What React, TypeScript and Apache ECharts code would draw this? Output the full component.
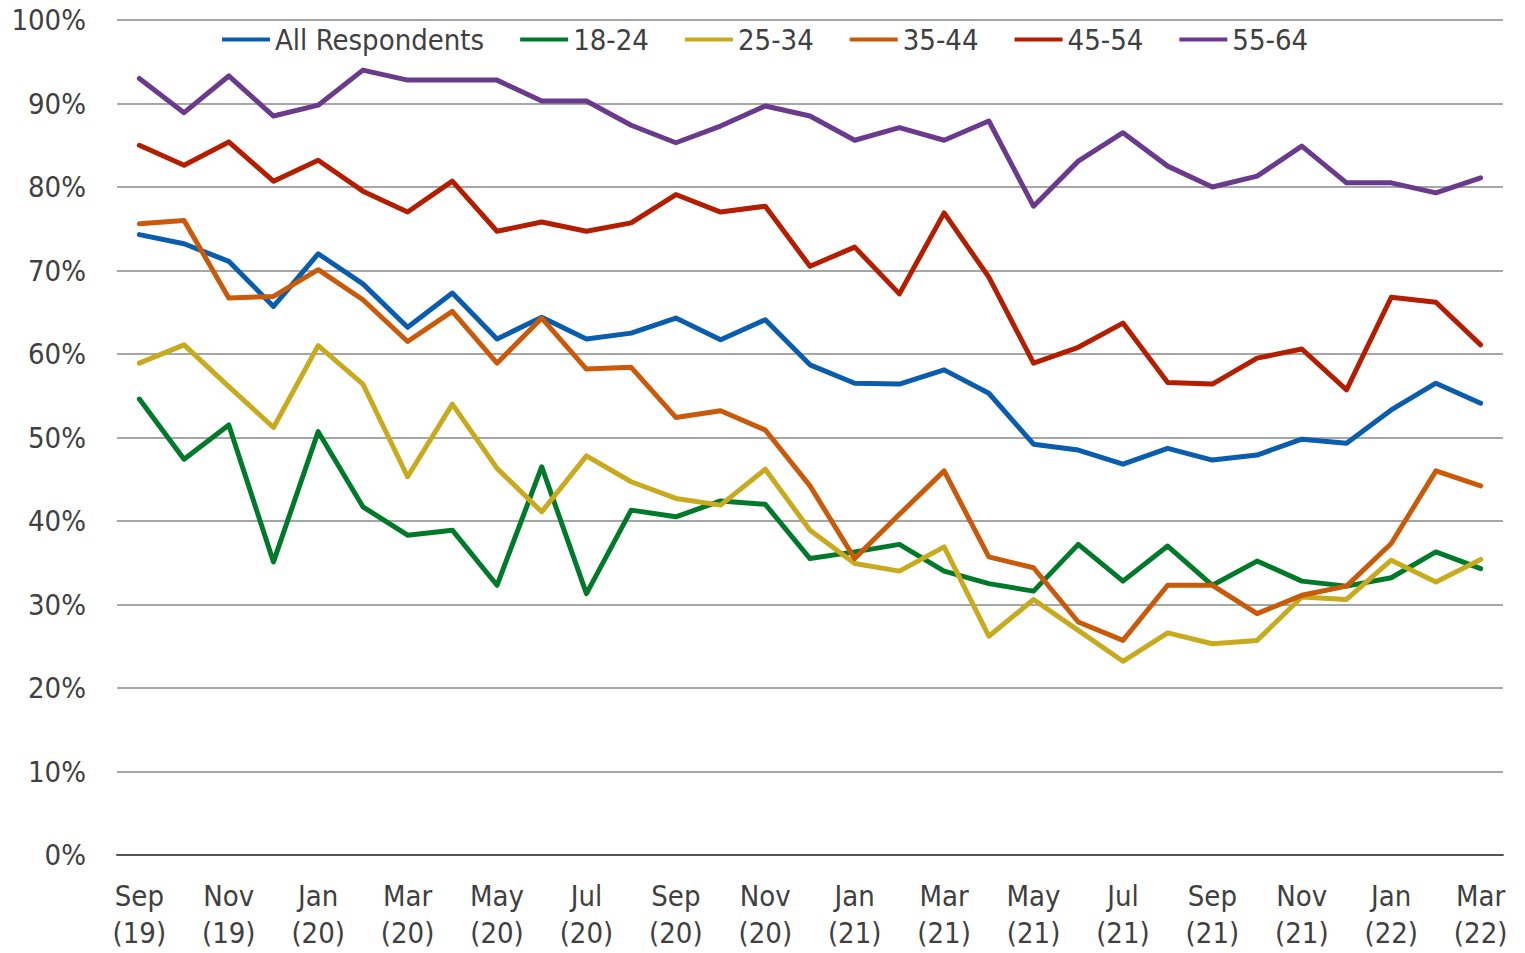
import React, { useEffect, useRef } from "react";
import * as echarts from "echarts";

const categories = [
  "Sep\n(19)", "Oct\n(19)", "Nov\n(19)", "Dec\n(19)", "Jan\n(20)", "Feb\n(20)", "Mar\n(20)", "Apr\n(20)",
  "May\n(20)", "Jun\n(20)", "Jul\n(20)", "Aug\n(20)", "Sep\n(20)", "Oct\n(20)", "Nov\n(20)", "Dec\n(20)",
  "Jan\n(21)", "Feb\n(21)", "Mar\n(21)", "Apr\n(21)", "May\n(21)", "Jun\n(21)", "Jul\n(21)", "Aug\n(21)",
  "Sep\n(21)", "Oct\n(21)", "Nov\n(21)", "Dec\n(21)", "Jan\n(22)", "Feb\n(22)", "Mar\n(22)",
];

const allRespondents = [
  74.3, 73.2, 71.1, 65.7, 72.0, 68.4, 63.2, 67.3, 61.8, 64.4, 61.8, 62.5, 64.3, 61.7, 64.1, 58.7,
  56.5, 56.4, 58.1, 55.3, 49.2, 48.5, 46.8, 48.7, 47.3, 47.9, 49.8, 49.3, 53.3, 56.5, 54.1,
];
const age18to24 = [
  54.6, 47.4, 51.5, 35.1, 50.7, 41.7, 38.3, 38.9, 32.3, 46.5, 31.3, 41.3, 40.5, 42.4, 42.0, 35.5,
  36.3, 37.2, 34.0, 32.5, 31.6, 37.2, 32.8, 37.0, 32.3, 35.2, 32.8, 32.2, 33.2, 36.3, 34.3,
];
const age25to34 = [
  58.9, 61.1, 56.1, 51.2, 61.0, 56.4, 45.3, 54.0, 46.3, 41.1, 47.8, 44.7, 42.7, 41.9, 46.2, 38.9,
  34.9, 34.0, 36.9, 26.2, 30.6, 26.9, 23.2, 26.6, 25.3, 25.7, 30.9, 30.6, 35.3, 32.7, 35.4,
];
const age35to44 = [
  75.6, 76.0, 66.7, 66.9, 70.1, 66.5, 61.5, 65.1, 58.9, 64.3, 58.2, 58.4, 52.4, 53.2, 50.9, 44.2,
  35.5, 40.8, 46.0, 35.7, 34.4, 27.9, 25.7, 32.3, 32.3, 28.9, 31.1, 32.2, 37.3, 46.0, 44.2,
];
const age45to54 = [
  85.0, 82.6, 85.4, 80.7, 83.2, 79.5, 77.0, 80.7, 74.7, 75.8, 74.7, 75.7, 79.1, 77.0, 77.7, 70.5,
  72.8, 67.2, 76.9, 69.2, 58.9, 60.8, 63.7, 56.6, 56.4, 59.5, 60.6, 55.7, 66.8, 66.2, 61.1,
];
const age55to64 = [
  93.0, 88.9, 93.3, 88.5, 89.8, 94.0, 92.8, 92.8, 92.8, 90.3, 90.3, 87.4, 85.3, 87.3, 89.7, 88.5,
  85.6, 87.1, 85.6, 87.9, 77.7, 83.1, 86.5, 82.5, 80.0, 81.3, 84.9, 80.5, 80.5, 79.3, 81.1,
];

const seriesNames = ["All Respondents", "18-24", "25-34", "35-44", "45-54", "55-64"];
const seriesData = [allRespondents, age18to24, age25to34, age35to44, age45to54, age55to64];
const seriesColors = ["#0A5CAD", "#007A2A", "#C8AA1E", "#C85A0A", "#B41E00", "#6A3A8C"];

const FONT = "'DejaVu Sans Condensed', 'DejaVu Sans', sans-serif";
const TEXT = "#404040";

export default function App() {
  const ref = useRef<HTMLDivElement>(null);
  useEffect(() => {
    document.body.style.margin = "0";
    if (!ref.current) return;
    const chart = echarts.init(ref.current, null, { renderer: "svg" });
    chart.setOption({
      animation: false,
      backgroundColor: "#ffffff",
      textStyle: { fontFamily: FONT },
      legend: {
        top: 20,
        left: 217,
        icon: "rect",
        itemWidth: 48,
        itemHeight: 4,
        itemGap: 36,
        textStyle: { fontSize: 29, color: TEXT, fontFamily: FONT },
        data: seriesNames,
      },
      grid: { left: 117, right: 22, top: 20, bottom: 98, containLabel: false },
      xAxis: {
        type: "category",
        data: categories,
        boundaryGap: true,
        axisLine: { show: true, lineStyle: { color: "#555555", width: 2 } },
        axisTick: { show: false },
        axisLabel: {
          interval: 1,
          fontSize: 29,
          color: TEXT,
          lineHeight: 37,
          margin: 22,
          fontFamily: FONT,
        },
      },
      yAxis: {
        type: "value",
        min: 0,
        max: 100,
        interval: 10,
        axisLine: { show: false },
        axisTick: { show: false },
        splitLine: { lineStyle: { color: "#A6A6A6", width: 2 } },
        axisLabel: {
          formatter: "{value}%",
          fontSize: 29,
          color: TEXT,
          margin: 31,
          fontFamily: FONT,
        },
      },
      series: seriesNames.map((name, i) => ({
        name,
        type: "line",
        data: seriesData[i],
        showSymbol: false,
        symbol: "none",
        lineStyle: { color: seriesColors[i], width: 5, cap: "round", join: "round" },
        itemStyle: { color: seriesColors[i] },
        z: 2 + i,
      })),
    });
    return () => chart.dispose();
  }, []);
  return <div ref={ref} style={{ width: 1525, height: 953 }} />;
}
